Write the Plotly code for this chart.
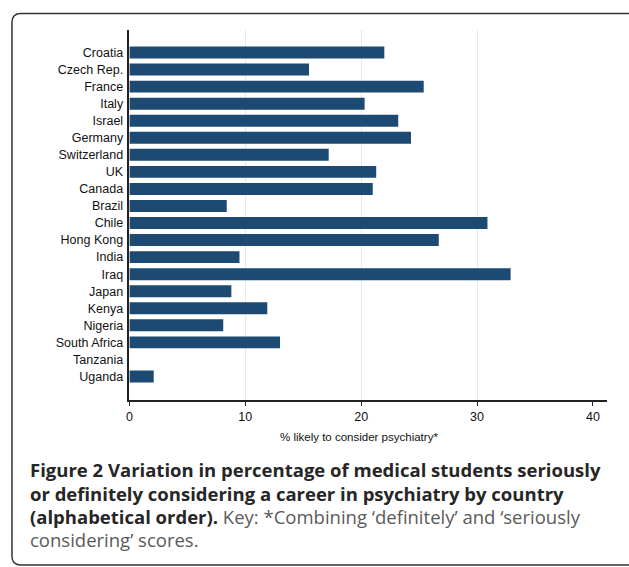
import plotly.graph_objects as go

countries = ["Croatia", "Czech Rep.", "France", "Italy", "Israel", "Germany", "Switzerland",
             "UK", "Canada", "Brazil", "Chile", "Hong Kong", "India", "Iraq", "Japan",
             "Kenya", "Nigeria", "South Africa", "Tanzania", "Uganda"]
values = [22.0, 15.5, 25.4, 20.3, 23.2, 24.3, 17.2, 21.3, 21.0, 8.4, 30.9, 26.7,
          9.5, 32.9, 8.8, 11.9, 8.1, 13.0, 0.0, 2.1]
x_ticks = [0, 10, 20, 30, 40]
grid_vals = [10, 20, 30]
x_title = "% likely to consider psychiatry*"
caption_lines = [
    "<b>Figure 2 Variation in percentage of medical students seriously</b>",
    "<b>or definitely considering a career in psychiatry by country</b>",
    "<b>(alphabetical order).</b> <span style='color:#5a5a5a'>Key: *Combining \u2018definitely\u2019 and \u2018seriously</span>",
    "<span style='color:#5a5a5a'>considering\u2019 scores.</span>",
]

W, H = 629, 567

fig = go.Figure()
fig.add_trace(go.Bar(
    x=values, y=countries, orientation="h",
    marker=dict(color="#1c4a73", line=dict(width=0)),
    width=0.7, hoverinfo="skip",
))

fig.update_layout(
    width=W, height=H,
    margin=dict(l=0, r=0, t=0, b=0),
    paper_bgcolor="white", plot_bgcolor="white",
    showlegend=False,
    xaxis=dict(
        domain=[127 / W, 606.7 / W], range=[0, 41.2],
        tickvals=x_ticks, ticks="outside", ticklen=4, tickwidth=1, tickcolor="#222",
        showgrid=False, zeroline=False,
        showline=True, linecolor="#222", linewidth=1.5,
        tickfont=dict(family="Liberation Sans, Arial", size=12.5, color="#111"),
        minor=dict(tickmode="array", tickvals=grid_vals, showgrid=True,
                   gridcolor="#e4e9ec", gridwidth=1, ticks=""),
    ),
    yaxis=dict(
        domain=[1 - 400 / H, 1 - 30 / H],
        range=[20.38, -1.32],
        ticks="outside", ticklen=2, tickcolor="rgba(0,0,0,0)",
        showgrid=False, zeroline=False,
        showline=True, linecolor="#222", linewidth=1.5,
        tickfont=dict(family="Liberation Sans, Arial", size=12.5, color="#111"),
    ),
)

annotations = [dict(
    x=19.8, xref="x", y=1 - 437 / H, yref="paper",
    text=x_title, showarrow=False, xanchor="center", yanchor="middle",
    font=dict(family="Liberation Sans, Arial", size=11.5, color="#111"),
)]
line_y = [469, 493, 516, 539]
for txt, yy in zip(caption_lines, line_y):
    annotations.append(dict(
        x=25 / W, xref="paper", y=1 - yy / H, yref="paper",
        text=txt, showarrow=False, xanchor="left", yanchor="middle", align="left",
        font=dict(family="Open Sans", size=18.5, color="#262626"),
    ))
fig.update_layout(annotations=annotations)

# rounded caption/figure frame
x0 = 9 / W
yt = 1 - 13.5 / H
yb = 1 - 565 / H
rx = 9 / W
ry = 9 / H
path = (f"M 1.05 {yt} L {x0 + rx} {yt} Q {x0} {yt} {x0} {yt - ry} "
        f"L {x0} {yb + ry} Q {x0} {yb} {x0 + rx} {yb} L 1.05 {yb}")
fig.add_shape(type="path", path=path, xref="paper", yref="paper",
              line=dict(color="#333", width=1.5))

fig.write_html("out.html",
               config={"displayModeBar": False},
               post_script="document.body.style.margin='0px';document.body.style.overflow='hidden';")
